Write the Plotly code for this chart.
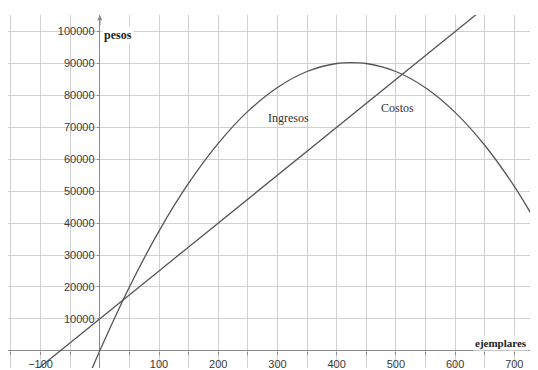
import plotly.graph_objects as go

# valores
ejemplares = [-20, 0, 50, 100, 150, 200, 250, 300, 350, 400, 425, 450, 500, 550, 600, 650, 700, 750]
ingresos = [-8700, 0, 20000, 37500, 52500, 65000, 75000, 82500, 87500, 90000, 90300, 90000,
            87500, 82400, 74700, 64400, 51500, 36000]

costos_x = [-150, 700]
costos_y = [-12500, 115000]

x_ticks = [-100, 100, 200, 300, 400, 500, 600, 700]
y_ticks = [10000, 20000, 30000, 40000, 50000, 60000, 70000, 80000, 90000, 100000]

x_range = [-155, 740]
y_range = [-5400, 105200]

line_col = "#555555"
grid_col = "#d0d0d0"
axis_col = "#8a8a8a"

fig = go.Figure()
fig.add_trace(go.Scatter(x=ejemplares, y=ingresos, mode="lines", line_shape="spline",
                         line=dict(color=line_col, width=1.3), name="Ingresos"))
fig.add_trace(go.Scatter(x=costos_x, y=costos_y, mode="lines",
                         line=dict(color=line_col, width=1.3), name="Costos"))

# posicion de los ejes en el origen
pos_x_axis = (0 - y_range[0]) / (y_range[1] - y_range[0])
pos_y_axis = (0 - x_range[0]) / (x_range[1] - x_range[0])

tick_font = dict(family="Liberation Sans, Arial", size=11, color="#3a3a3a")

# la pagina tiene un margen de 8px en el body
fig.update_layout(
    width=530, height=362,
    margin=dict(l=0, r=0, t=7, b=0),
    paper_bgcolor="white", plot_bgcolor="white",
    showlegend=False,
    xaxis=dict(range=x_range, anchor="free", position=pos_x_axis,
               tickvals=x_ticks, tickformat="d", ticks="outside", ticklen=3, tickcolor=axis_col,
               showgrid=True, gridcolor=grid_col, gridwidth=1.2,
               minor=dict(dtick=50, tick0=0, showgrid=True, gridcolor=grid_col, gridwidth=1.2,
                          ticks="outside", ticklen=3, tickcolor=axis_col),
               zeroline=True, zerolinecolor=axis_col, zerolinewidth=1.3,
               showline=False, tickfont=tick_font, fixedrange=True),
    yaxis=dict(range=y_range, anchor="free", position=pos_y_axis,
               tickvals=y_ticks, tickformat="d", ticks="outside", ticklen=3, tickcolor=axis_col,
               showgrid=True, gridcolor=grid_col, gridwidth=1.2,
               zeroline=True, zerolinecolor=axis_col, zerolinewidth=1.3,
               showline=False, tickfont=tick_font, fixedrange=True),
)

serif = "Liberation Serif, Times New Roman"
fig.add_annotation(x=0, y=y_range[1], ax=0, ay=12, text="", showarrow=True,
                   arrowhead=2, arrowsize=0.8, arrowwidth=1.3, arrowcolor=axis_col)
fig.add_annotation(x=0, y=100000, text="<b>pesos</b>", showarrow=False, xanchor="left",
                   xshift=2, yshift=-3, bgcolor="white",
                   font=dict(family=serif, size=12, color="#222222"))
fig.add_annotation(x=740, y=0, text="<b>ejemplares</b>", showarrow=False, xanchor="right",
                   yanchor="bottom", xshift=-9, yshift=0, bgcolor="white",
                   font=dict(family=serif, size=11, color="#222222"))
fig.add_annotation(x=318, y=73000, text="Ingresos", showarrow=False,
                   font=dict(family=serif, size=12, color="#333333"))
fig.add_annotation(x=503, y=76000, text="Costos", showarrow=False,
                   font=dict(family=serif, size=12, color="#333333"))

fig.write_html("out.html")
